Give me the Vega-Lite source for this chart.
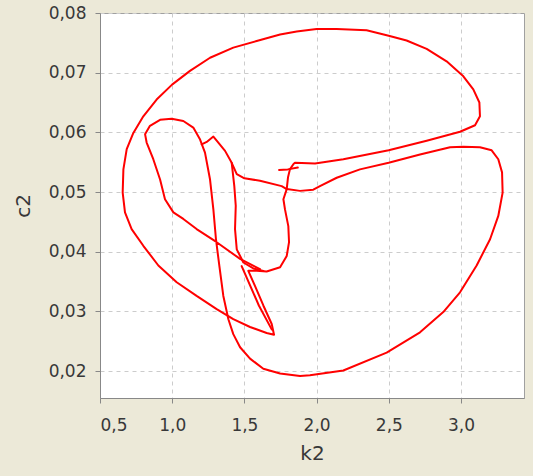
{
  "$schema": "https://vega.github.io/schema/vega-lite/v6.json",
  "width": 424,
  "height": 385,
  "autosize": {"type": "none"},
  "padding": {"left": 100, "top": 13, "right": 9, "bottom": 78},
  "background": "#ECE9D8",
  "config": {
    "view": {"fill": "#FFFFFF", "stroke": "#A0A0A0", "strokeWidth": 1},
    "font": "DejaVu Sans",
    "axis": {
      "domainColor": "#888888",
      "tickColor": "#888888",
      "tickSize": 5,
      "gridColor": "#CCCCCC",
      "gridDash": [4, 4],
      "labelFontSize": 17,
      "labelColor": "#383838",
      "titleFontSize": 20,
      "titleFontWeight": "normal",
      "titleColor": "#383838"
    }
  },
  "data": {"values": [
    {"seg":"A","i":1,"k2":1.793,"c2":0.0505},
    {"seg":"A","i":2,"k2":1.802,"c2":0.0525},
    {"seg":"A","i":3,"k2":1.815,"c2":0.0538},
    {"seg":"A","i":4,"k2":1.84,"c2":0.0547},
    {"seg":"A","i":5,"k2":1.85,"c2":0.0549},
    {"seg":"A","i":6,"k2":1.989,"c2":0.0548},
    {"seg":"A","i":7,"k2":2.185,"c2":0.0555},
    {"seg":"A","i":8,"k2":2.499,"c2":0.057},
    {"seg":"A","i":9,"k2":2.762,"c2":0.0586},
    {"seg":"A","i":10,"k2":2.993,"c2":0.0601},
    {"seg":"A","i":11,"k2":3.097,"c2":0.0612},
    {"seg":"A","i":12,"k2":3.131,"c2":0.0627},
    {"seg":"A","i":13,"k2":3.127,"c2":0.065},
    {"seg":"A","i":14,"k2":3.085,"c2":0.0672},
    {"seg":"A","i":15,"k2":3.016,"c2":0.0694},
    {"seg":"A","i":16,"k2":2.9,"c2":0.0719},
    {"seg":"A","i":17,"k2":2.762,"c2":0.074},
    {"seg":"A","i":18,"k2":2.623,"c2":0.0754},
    {"seg":"A","i":19,"k2":2.499,"c2":0.0762},
    {"seg":"A","i":20,"k2":2.346,"c2":0.0771},
    {"seg":"A","i":21,"k2":2.139,"c2":0.0773},
    {"seg":"A","i":22,"k2":2.0,"c2":0.0773},
    {"seg":"A","i":23,"k2":1.862,"c2":0.0769},
    {"seg":"A","i":24,"k2":1.747,"c2":0.0764},
    {"seg":"A","i":25,"k2":1.585,"c2":0.0753},
    {"seg":"A","i":26,"k2":1.423,"c2":0.0742},
    {"seg":"A","i":27,"k2":1.262,"c2":0.0725},
    {"seg":"A","i":28,"k2":1.123,"c2":0.0703},
    {"seg":"A","i":29,"k2":0.999,"c2":0.068},
    {"seg":"A","i":30,"k2":0.892,"c2":0.0655},
    {"seg":"A","i":31,"k2":0.8,"c2":0.0627},
    {"seg":"A","i":32,"k2":0.731,"c2":0.0599},
    {"seg":"A","i":33,"k2":0.685,"c2":0.0572},
    {"seg":"A","i":34,"k2":0.662,"c2":0.0538},
    {"seg":"A","i":35,"k2":0.657,"c2":0.0499},
    {"seg":"A","i":36,"k2":0.673,"c2":0.0466},
    {"seg":"A","i":37,"k2":0.719,"c2":0.0438},
    {"seg":"A","i":38,"k2":0.8,"c2":0.041},
    {"seg":"A","i":39,"k2":0.904,"c2":0.0377},
    {"seg":"A","i":40,"k2":1.031,"c2":0.0349},
    {"seg":"A","i":41,"k2":1.169,"c2":0.0326},
    {"seg":"A","i":42,"k2":1.308,"c2":0.0304},
    {"seg":"A","i":43,"k2":1.423,"c2":0.0287},
    {"seg":"A","i":44,"k2":1.539,"c2":0.0274},
    {"seg":"A","i":45,"k2":1.654,"c2":0.0264},
    {"seg":"A","i":46,"k2":1.705,"c2":0.0261},
    {"seg":"A","i":47,"k2":1.689,"c2":0.0279},
    {"seg":"A","i":48,"k2":1.631,"c2":0.031},
    {"seg":"A","i":49,"k2":1.573,"c2":0.0343},
    {"seg":"A","i":50,"k2":1.527,"c2":0.0368},
    {"seg":"A","i":51,"k2":1.585,"c2":0.0368},
    {"seg":"A","i":52,"k2":1.654,"c2":0.0367},
    {"seg":"A","i":53,"k2":1.747,"c2":0.0374},
    {"seg":"A","i":54,"k2":1.793,"c2":0.0393},
    {"seg":"A","i":55,"k2":1.809,"c2":0.0416},
    {"seg":"A","i":56,"k2":1.804,"c2":0.0443},
    {"seg":"A","i":57,"k2":1.781,"c2":0.0471},
    {"seg":"A","i":58,"k2":1.77,"c2":0.0488},
    {"seg":"A","i":59,"k2":1.793,"c2":0.0505},
    {"seg":"B","i":1,"k2":1.608,"c2":0.0371},
    {"seg":"B","i":2,"k2":1.47,"c2":0.0388},
    {"seg":"B","i":3,"k2":1.308,"c2":0.0416},
    {"seg":"B","i":4,"k2":1.169,"c2":0.0438},
    {"seg":"B","i":5,"k2":1.077,"c2":0.0455},
    {"seg":"B","i":6,"k2":1.008,"c2":0.0466},
    {"seg":"B","i":7,"k2":0.95,"c2":0.0488},
    {"seg":"B","i":8,"k2":0.916,"c2":0.0521},
    {"seg":"B","i":9,"k2":0.869,"c2":0.0555},
    {"seg":"B","i":10,"k2":0.823,"c2":0.0583},
    {"seg":"B","i":11,"k2":0.812,"c2":0.0597},
    {"seg":"B","i":12,"k2":0.846,"c2":0.0611},
    {"seg":"B","i":13,"k2":0.916,"c2":0.0621},
    {"seg":"B","i":14,"k2":0.996,"c2":0.0623},
    {"seg":"B","i":15,"k2":1.077,"c2":0.0619},
    {"seg":"B","i":16,"k2":1.146,"c2":0.0608},
    {"seg":"B","i":17,"k2":1.193,"c2":0.0588},
    {"seg":"B","i":18,"k2":1.227,"c2":0.0566},
    {"seg":"B","i":19,"k2":1.262,"c2":0.0521},
    {"seg":"B","i":20,"k2":1.285,"c2":0.0471},
    {"seg":"B","i":21,"k2":1.303,"c2":0.0421},
    {"seg":"B","i":22,"k2":1.326,"c2":0.0377},
    {"seg":"B","i":23,"k2":1.354,"c2":0.0326},
    {"seg":"B","i":24,"k2":1.389,"c2":0.0287},
    {"seg":"B","i":25,"k2":1.423,"c2":0.0262},
    {"seg":"B","i":26,"k2":1.47,"c2":0.024},
    {"seg":"B","i":27,"k2":1.539,"c2":0.0221},
    {"seg":"B","i":28,"k2":1.631,"c2":0.0204},
    {"seg":"B","i":29,"k2":1.747,"c2":0.0196},
    {"seg":"B","i":30,"k2":1.885,"c2":0.0192},
    {"seg":"B","i":31,"k2":1.954,"c2":0.0193},
    {"seg":"B","i":32,"k2":2.185,"c2":0.0201},
    {"seg":"B","i":33,"k2":2.485,"c2":0.0231},
    {"seg":"B","i":34,"k2":2.716,"c2":0.0265},
    {"seg":"B","i":35,"k2":2.877,"c2":0.0299},
    {"seg":"B","i":36,"k2":2.993,"c2":0.0332},
    {"seg":"B","i":37,"k2":3.108,"c2":0.0377},
    {"seg":"B","i":38,"k2":3.201,"c2":0.0421},
    {"seg":"B","i":39,"k2":3.258,"c2":0.046},
    {"seg":"B","i":40,"k2":3.288,"c2":0.0499},
    {"seg":"B","i":41,"k2":3.284,"c2":0.0533},
    {"seg":"B","i":42,"k2":3.258,"c2":0.0555},
    {"seg":"B","i":43,"k2":3.212,"c2":0.057},
    {"seg":"B","i":44,"k2":3.131,"c2":0.0575},
    {"seg":"B","i":45,"k2":3.016,"c2":0.0576},
    {"seg":"B","i":46,"k2":2.924,"c2":0.0575},
    {"seg":"B","i":47,"k2":2.716,"c2":0.0563},
    {"seg":"B","i":48,"k2":2.499,"c2":0.0549},
    {"seg":"B","i":49,"k2":2.3,"c2":0.0538},
    {"seg":"B","i":50,"k2":2.139,"c2":0.0524},
    {"seg":"B","i":51,"k2":2.023,"c2":0.051},
    {"seg":"B","i":52,"k2":1.977,"c2":0.0504},
    {"seg":"B","i":53,"k2":1.885,"c2":0.0502},
    {"seg":"B","i":54,"k2":1.793,"c2":0.0505},
    {"seg":"C","i":1,"k2":1.793,"c2":0.0505},
    {"seg":"C","i":2,"k2":1.758,"c2":0.051},
    {"seg":"C","i":3,"k2":1.608,"c2":0.0519},
    {"seg":"C","i":4,"k2":1.5,"c2":0.0523},
    {"seg":"C","i":5,"k2":1.447,"c2":0.053},
    {"seg":"C","i":6,"k2":1.412,"c2":0.0549},
    {"seg":"C","i":7,"k2":1.366,"c2":0.0569},
    {"seg":"C","i":8,"k2":1.308,"c2":0.0586},
    {"seg":"C","i":9,"k2":1.285,"c2":0.0593},
    {"seg":"C","i":10,"k2":1.239,"c2":0.0584},
    {"seg":"C","i":11,"k2":1.204,"c2":0.058},
    {"seg":"D","i":1,"k2":1.412,"c2":0.0549},
    {"seg":"D","i":2,"k2":1.43,"c2":0.051},
    {"seg":"D","i":3,"k2":1.44,"c2":0.0477},
    {"seg":"D","i":4,"k2":1.435,"c2":0.0438},
    {"seg":"D","i":5,"k2":1.447,"c2":0.0404},
    {"seg":"D","i":6,"k2":1.493,"c2":0.0382},
    {"seg":"D","i":7,"k2":1.562,"c2":0.0372},
    {"seg":"D","i":8,"k2":1.631,"c2":0.0368},
    {"seg":"E","i":1,"k2":1.481,"c2":0.0376},
    {"seg":"E","i":2,"k2":1.6,"c2":0.031},
    {"seg":"E","i":3,"k2":1.689,"c2":0.027},
    {"seg":"F","i":1,"k2":1.74,"c2":0.0537},
    {"seg":"F","i":2,"k2":1.8,"c2":0.0538},
    {"seg":"F","i":3,"k2":1.87,"c2":0.0541}
  ]},
  "mark": {"type": "line", "color": "#FF0000", "strokeWidth": 2, "strokeJoin": "round", "strokeCap": "round"},
  "encoding": {
    "x": {
      "field": "k2", "type": "quantitative",
      "scale": {"domain": [0.5, 3.436], "nice": false, "zero": false},
      "axis": {"title": "k2", "values": [0.5, 1, 1.5, 2, 2.5, 3], "labelExpr": "replace(format(datum.value, '.1f'), '.', ',')", "labelPadding": 14, "titlePadding": 10}
    },
    "y": {
      "field": "c2", "type": "quantitative",
      "scale": {"domain": [0.0155, 0.08], "nice": false, "zero": false},
      "axis": {"title": "c2", "values": [0.02, 0.03, 0.04, 0.05, 0.06, 0.07, 0.08], "labelExpr": "replace(format(datum.value, '.2f'), '.', ',')", "labelPadding": 9, "titlePadding": 15}
    },
    "detail": {"field": "seg", "type": "nominal"},
    "order": {"field": "i", "type": "quantitative"}
  }
}
